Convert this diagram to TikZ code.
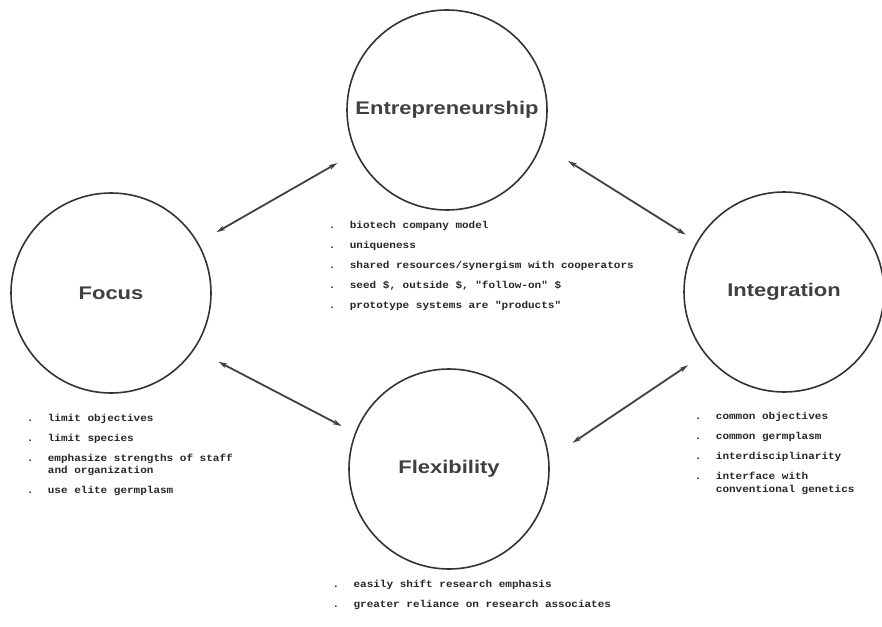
\documentclass[tikz,border=0pt]{standalone}
\usepackage{fontspec}
\usetikzlibrary{arrows.meta}
\setmainfont{Liberation Sans}
\newfontfamily\headfont{Liberation Sans}[FakeStretch=1.2]
\newfontfamily\typefont{Liberation Mono}[FakeStretch=1.1]
\tikzset{>={Stealth[length=9pt,width=5pt]}}
\def\bul{\makebox[21pt][l]{.}}
\def\ind{\hspace*{21pt}}

\begin{document}
\begin{tikzpicture}[x=1pt,y=-1pt,
    topic/.style={circle, draw=black!80, line width=1.6pt, minimum size=200pt, inner sep=0pt,
      font=\headfont\bfseries\fontsize{18.3}{20}\selectfont, text=black!75},
    notes/.style={anchor=base west, align=left, inner sep=0pt,
      font=\typefont\bfseries\fontsize{10}{12.5}\selectfont, text=black!85},
    link/.style={<->, line width=1.8pt, black!75}]
    \useasboundingbox (0,0) rectangle (882,626);

    \node [topic] (ent) at (447,110) {Entrepreneurship};
    \node [topic] (focus) at (111,293) {Focus};
    \node [topic] (integ) at (784,292) {Integration};
    \node [topic] (flex) at (449,469) {Flexibility};

    \draw [link, shorten <=21pt, shorten >=21pt] (focus.30) -- (ent.205);
    \draw [link, shorten <=31pt, shorten >=13pt] (ent.-20) -- (integ.150);
    \draw [link, shorten <=27pt, shorten >=15pt] (focus.-34) -- (flex.159);
    \draw [link, shorten <=28pt, shorten >=20pt] (flex.6) -- (integ.218);

    \node [notes] (entlist) at (328.7,308) {\bul biotech company model\\[7.5pt]
      \bul uniqueness\\[7.5pt]
      \bul shared resources/synergism with cooperators\\[7.5pt]
      \bul seed \$, outside \$, "follow-on" \$\\[7.5pt]
      \bul prototype systems are "products"};
    \node [notes] (focuslist) at (26.7,493) {\bul limit objectives\\[7.5pt]
      \bul limit species\\[7.5pt]
      \bul emphasize strengths of staff\\
      \ind and organization\\[7pt]
      \bul use elite germplasm};
    \node [notes] (integlist) at (694.7,492) {\bul common objectives\\[7.5pt]
      \bul common germplasm\\[7.5pt]
      \bul interdisciplinarity\\[7.5pt]
      \bul interface with\\
      \ind conventional genetics};
    \node [notes] (flexlist) at (332.4,607) {\bul easily shift research emphasis\\[7.5pt]
      \bul greater reliance on research associates};
\end{tikzpicture}
\end{document}
